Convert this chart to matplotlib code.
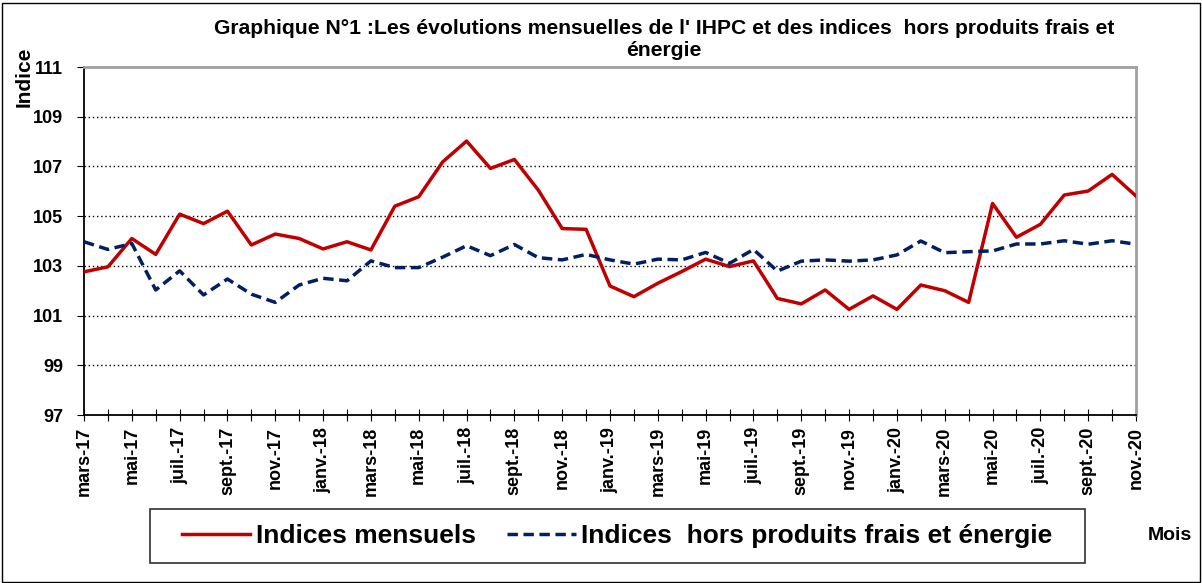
import numpy as np
import matplotlib.pyplot as plt

plt.rcParams["font.family"] = ["Liberation Sans", "DejaVu Sans"]

# monthly labels, mars-17 .. nov-20
month_names = ["janv.", "févr.", "mars", "avr.", "mai", "juin",
               "juil.", "août", "sept.", "oct.", "nov.", "déc."]
months = []
for yr in range(17, 21):
    for m in range(12):
        months.append(f"{month_names[m]}-{yr}")
months = months[2:2 + 45]

indices_mensuels = [
    102.76, 102.96, 104.10, 103.46, 105.08, 104.70, 105.20, 103.84, 104.28, 104.10,
    103.68, 103.97, 103.64, 105.40, 105.78, 107.18, 108.02, 106.92, 107.28, 106.05,
    104.50, 104.47, 102.19, 101.76, 102.30, 102.77, 103.27, 102.97, 103.20, 101.69,
    101.47, 102.03, 101.25, 101.79, 101.25, 102.23, 102.00, 101.53, 105.51, 104.15,
    104.67, 105.85, 106.01, 106.68, 105.81,
]
indices_hors_pf = [
    103.97, 103.66, 103.90, 102.03, 102.80, 101.83, 102.47, 101.86, 101.53, 102.23,
    102.50, 102.40, 103.20, 102.93, 102.93, 103.35, 103.81, 103.41, 103.86, 103.33,
    103.24, 103.46, 103.24, 103.07, 103.27, 103.24, 103.54, 103.10, 103.66, 102.79,
    103.19, 103.24, 103.19, 103.24, 103.44, 104.00, 103.53, 103.57, 103.60, 103.88,
    103.88, 104.01, 103.87, 104.01, 103.87,
]
y_ticks = [97, 99, 101, 103, 105, 107, 109, 111]

W, H = 1202, 583
fig = plt.figure(figsize=(W / 100, H / 100), dpi=100)
ax = fig.add_axes([84 / W, 1 - 415 / H, (1136 - 84) / W, (415 - 67) / H])

x = np.arange(len(months))
ax.plot(x, indices_mensuels, color="#C00000", lw=2.5, label="Indices mensuels", zorder=3)
ax.plot(x, indices_hors_pf, color="#002060", lw=2.5, dashes=(3.0, 1.6),
        label="Indices  hors produits frais et énergie", zorder=3)

ax.set_xlim(0, len(months) - 1)
ax.set_ylim(97, 111)
ax.set_yticks(y_ticks)
ax.set_xticks(x[::2])
ax.set_xticklabels(months[::2], rotation=90, fontsize=13, fontweight="bold")
ax.set_xticks(x, minor=True)
ax.tick_params(axis="x", which="both", direction="inout", length=9, width=0.8, pad=4)
ax.tick_params(axis="y", direction="out", length=5, width=0.8, labelsize=13, pad=10)
for t in ax.get_yticklabels():
    t.set_fontweight("bold")

# dotted gridlines at the inner ticks only
for yv in y_ticks[1:-1]:
    ax.axhline(yv, color="black", lw=1.0, ls=(0, (1, 2)), zorder=1)

ax.spines["left"].set_linewidth(1.3)
ax.spines["bottom"].set_linewidth(1.3)
for side in ["top", "right"]:
    ax.spines[side].set_color("#a0a0a0")
    ax.spines[side].set_linewidth(2.0)

fig.text(664 / W, 1 - 28 / H,
         "Graphique N°1 :Les évolutions mensuelles de l' IHPC et des indices  hors produits frais et",
         ha="center", va="center", fontsize=15.2, fontweight="bold")
fig.text(664 / W, 1 - 51 / H, "énergie", ha="center", va="center",
         fontsize=15.2, fontweight="bold")
fig.text(24 / W, 1 - 77 / H, "Indice", rotation=90, ha="center", va="center",
         fontsize=15, fontweight="bold")
fig.text(1170 / W, 1 - 536 / H, "Mois", ha="center", va="center",
         fontsize=14, fontweight="bold")

# legend box drawn separately so its padding matches the original
fig.patches.append(plt.Rectangle((150 / W, 1 - 563 / H), (1085 - 150) / W, (563 - 509) / H,
                                 transform=fig.transFigure, fill=False,
                                 edgecolor="#303030", lw=1.2))
fig.legend(loc="center", bbox_to_anchor=(617 / W, 1 - 536 / H), ncol=2,
           prop={"weight": "bold", "size": 19}, frameon=False,
           handlelength=2.6, handletextpad=0.2, columnspacing=1.2,
           borderaxespad=0)

# outer frame
fig.patches.append(plt.Rectangle((0.002, 0.002), 0.996, 0.993, transform=fig.transFigure,
                                 fill=False, edgecolor="black", lw=1.0))

fig.savefig("out.png", dpi=100)
